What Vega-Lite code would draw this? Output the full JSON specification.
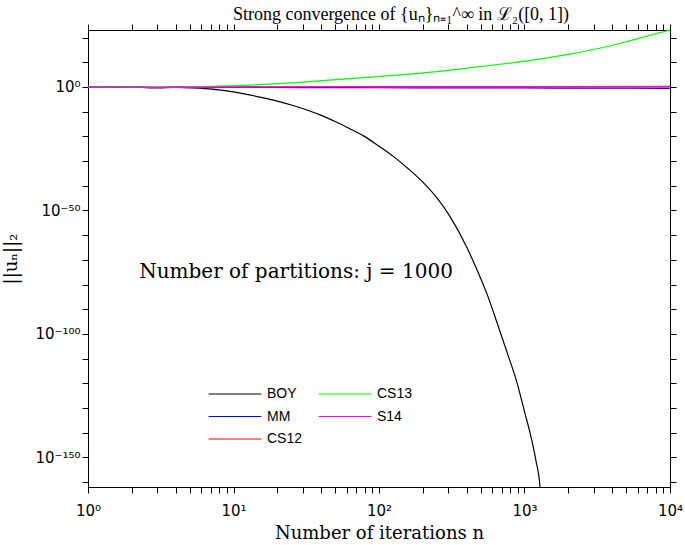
{
  "$schema": "https://vega.github.io/schema/vega-lite/v6.json",
  "width": 582,
  "height": 457,
  "autosize": {"type": "none"},
  "padding": {"left": 88, "top": 30, "right": 15, "bottom": 58},
  "background": "white",
  "title": {
    "text": "Strong convergence of {uₙ}ₙ₌₁^∞ in ℒ₂([0, 1])",
    "font": "Liberation Serif",
    "fontSize": 18,
    "fontWeight": "normal",
    "color": "black",
    "offset": 0,
    "dx": 22
  },
  "config": {
    "view": {"stroke": "black", "strokeWidth": 1},
    "axis": {"grid": false, "ticks": true, "zindex": 1, "domainColor": "black", "tickColor": "black", "tickWidth": 1, "labelColor": "black", "titleColor": "black", "labelFlush": false, "labelOverlap": false}
  },
  "resolve": {"axis": {"x": "independent", "y": "independent"}},
  "layer": [
    {
      "data": {"values": [
        {"s":"BOY","n":1,"v":1},{"s":"BOY","n":2,"v":0.8},{"s":"BOY","n":3,"v":0.5},{"s":"BOY","n":4,"v":0.7},{"s":"BOY","n":5,"v":0.5},{"s":"BOY","n":5.9,"v":0.316},{"s":"BOY","n":7.1,"v":0.126},{"s":"BOY","n":8.5,"v":0.0398},{"s":"BOY","n":10,"v":0.01},{"s":"BOY","n":12.6,"v":7.9e-4},{"s":"BOY","n":15.8,"v":5e-5},{"s":"BOY","n":20,"v":2e-6},{"s":"BOY","n":25,"v":5e-8},{"s":"BOY","n":31.6,"v":6.3e-10},{"s":"BOY","n":39.8,"v":4e-12},{"s":"BOY","n":50,"v":1e-14},{"s":"BOY","n":63,"v":1.26e-17},{"s":"BOY","n":79.4,"v":1e-20},{"s":"BOY","n":100,"v":1e-24},{"s":"BOY","n":126,"v":6.3e-29},{"s":"BOY","n":158,"v":1e-33},{"s":"BOY","n":200,"v":3.16e-39},{"s":"BOY","n":251,"v":1e-45},{"s":"BOY","n":308,"v":3.16e-53},{"s":"BOY","n":398,"v":3.16e-65},{"s":"BOY","n":472,"v":7.9e-75},{"s":"BOY","n":562,"v":1e-85},{"s":"BOY","n":648,"v":3.16e-96},{"s":"BOY","n":759,"v":3.16e-108},{"s":"BOY","n":889,"v":1.58e-120},{"s":"BOY","n":1000,"v":3.16e-132},{"s":"BOY","n":1092,"v":7.9e-141},{"s":"BOY","n":1200,"v":3.16e-152},{"s":"BOY","n":1278,"v":1e-162},{"s":"BOY","n":1300,"v":1e-169},
        {"s":"MM","n":1,"v":1},{"s":"MM","n":2,"v":0.8},{"s":"MM","n":3,"v":0.6},{"s":"MM","n":4,"v":0.9},{"s":"MM","n":5,"v":0.55},{"s":"MM","n":6,"v":0.5},{"s":"MM","n":7,"v":0.6},{"s":"MM","n":10,"v":0.7},{"s":"MM","n":30,"v":0.6},{"s":"MM","n":100,"v":0.5},{"s":"MM","n":300,"v":0.45},{"s":"MM","n":1000,"v":0.4},{"s":"MM","n":3000,"v":0.35},{"s":"MM","n":10000,"v":0.3},
        {"s":"CS12","n":1,"v":1},{"s":"CS12","n":2,"v":0.85},{"s":"CS12","n":3,"v":0.5},{"s":"CS12","n":4,"v":1.1},{"s":"CS12","n":5,"v":0.9},{"s":"CS12","n":6,"v":0.7},{"s":"CS12","n":8,"v":0.9},{"s":"CS12","n":10,"v":1.0},{"s":"CS12","n":100,"v":1.05},{"s":"CS12","n":1000,"v":1.1},{"s":"CS12","n":10000,"v":1.1},
        {"s":"CS13","n":1,"v":1},{"s":"CS13","n":3,"v":1.1},{"s":"CS13","n":5.9,"v":1.26},{"s":"CS13","n":10,"v":3},{"s":"CS13","n":28.6,"v":80},{"s":"CS13","n":60,"v":2000},{"s":"CS13","n":139,"v":79400},{"s":"CS13","n":250,"v":1.6e6},{"s":"CS13","n":402,"v":4e7},{"s":"CS13","n":700,"v":2e9},{"s":"CS13","n":1139,"v":7.9e10},{"s":"CS13","n":2000,"v":1.6e13},{"s":"CS13","n":3300,"v":5e15},{"s":"CS13","n":5520,"v":1e19},{"s":"CS13","n":10000,"v":1.2e23},
        {"s":"S14","n":1,"v":1.1},{"s":"S14","n":2,"v":1},{"s":"S14","n":3,"v":0.8},{"s":"S14","n":5,"v":0.9},{"s":"S14","n":10,"v":1.1},{"s":"S14","n":100,"v":1.3},{"s":"S14","n":1000,"v":1.5},{"s":"S14","n":10000,"v":1.7}
      ]},
      "mark": {"type": "line", "clip": true, "strokeWidth": 1.2, "interpolate": "monotone"},
      "encoding": {
        "x": {
          "field": "n", "type": "quantitative",
          "scale": {"type": "log", "domain": [1, 10000], "nice": false},
          "axis": {
            "orient": "bottom",
            "values": [1,2,3,4,5,6,7,8,9,10,20,30,40,50,60,70,80,90,100,200,300,400,500,600,700,800,900,1000,2000,3000,4000,5000,6000,7000,8000,9000,10000],
            "labelExpr": "abs(log(datum.value)/LN10 - round(log(datum.value)/LN10)) < 1e-9 ? (round(log(datum.value)/LN10) == 0 ? '10⁰' : round(log(datum.value)/LN10) == 1 ? '10¹' : round(log(datum.value)/LN10) == 2 ? '10²' : round(log(datum.value)/LN10) == 3 ? '10³' : '10⁴') : ''",
            "tickSize": 6,
            "encode": {"ticks": {"update": {"y2": {"signal": "abs(log(datum.value)/LN10 - round(log(datum.value)/LN10)) < 1e-9 ? -6 : -3"}}}},
            "labelFont": "DejaVu Sans", "labelFontSize": 15, "labelPadding": 10,
            "title": "Number of iterations n",
            "titleFont": "DejaVu Serif", "titleFontSize": 18, "titleFontWeight": "normal", "titlePadding": 6
          }
        },
        "y": {
          "field": "v", "type": "quantitative",
          "scale": {"type": "log", "domain": [1e-162, 1.2e23], "nice": false},
          "axis": {
            "orient": "left",
            "values": [1e20,1e10,1,1e-10,1e-20,1e-30,1e-40,1e-50,1e-60,1e-70,1e-80,1e-90,1e-100,1e-110,1e-120,1e-130,1e-140,1e-150,1e-160],
            "labelExpr": "round(log(datum.value)/LN10) == 0 ? '10⁰' : round(log(datum.value)/LN10) == -50 ? '10⁻⁵⁰' : round(log(datum.value)/LN10) == -100 ? '10⁻¹⁰⁰' : round(log(datum.value)/LN10) == -150 ? '10⁻¹⁵⁰' : ''",
            "tickSize": 6,
            "encode": {"ticks": {"update": {"x2": {"signal": "abs(round(log(datum.value)/LN10)) % 50 == 0 ? 6 : 3"}}}},
            "labelFont": "DejaVu Sans", "labelFontSize": 15, "labelPadding": 2,
            "title": "||uₙ||₂",
            "titleFont": "DejaVu Serif", "titleFontSize": 18, "titleFontWeight": "normal", "titlePadding": 14
          }
        },
        "color": {
          "field": "s", "type": "nominal",
          "scale": {"domain": ["BOY","MM","CS12","CS13","S14"], "range": ["#000000","#0000ff","#ff0000","#00ff00","#ff00ff"]},
          "legend": {
            "title": null, "orient": "none", "legendX": 135, "legendY": 352,
            "columns": 2, "columnPadding": 13, "rowPadding": 3.5,
            "symbolType": "M-2.4,0H2.4", "symbolSize": 484, "symbolStrokeWidth": 1.2, "symbolFillColor": "transparent",
            "labelFont": "Liberation Sans", "labelFontSize": 14, "labelColor": "black", "labelOffset": 20
          }
        }
      }
    },
    {
      "data": {"values": [{"n": 26.9, "v": 1e-75, "label": "Number of partitions: j = 1000"}]},
      "mark": {"type": "text", "font": "DejaVu Serif", "fontSize": 20, "align": "center", "baseline": "middle", "color": "black"},
      "encoding": {
        "x": {
          "field": "n", "type": "quantitative",
          "axis": {
            "orient": "top", "labels": false, "title": null,
            "values": [1,2,3,4,5,6,7,8,9,10,20,30,40,50,60,70,80,90,100,200,300,400,500,600,700,800,900,1000,2000,3000,4000,5000,6000,7000,8000,9000,10000],
            "tickSize": 6,
            "encode": {"ticks": {"update": {"y2": {"signal": "abs(log(datum.value)/LN10 - round(log(datum.value)/LN10)) < 1e-9 ? 6 : 3"}}}}
          }
        },
        "y": {
          "field": "v", "type": "quantitative",
          "axis": {
            "orient": "right", "labels": false, "title": null,
            "values": [1e20,1e10,1,1e-10,1e-20,1e-30,1e-40,1e-50,1e-60,1e-70,1e-80,1e-90,1e-100,1e-110,1e-120,1e-130,1e-140,1e-150,1e-160],
            "tickSize": 6,
            "encode": {"ticks": {"update": {"x2": {"signal": "abs(round(log(datum.value)/LN10)) % 50 == 0 ? -6 : -3"}}}}
          }
        },
        "text": {"field": "label"}
      }
    }
  ]
}
